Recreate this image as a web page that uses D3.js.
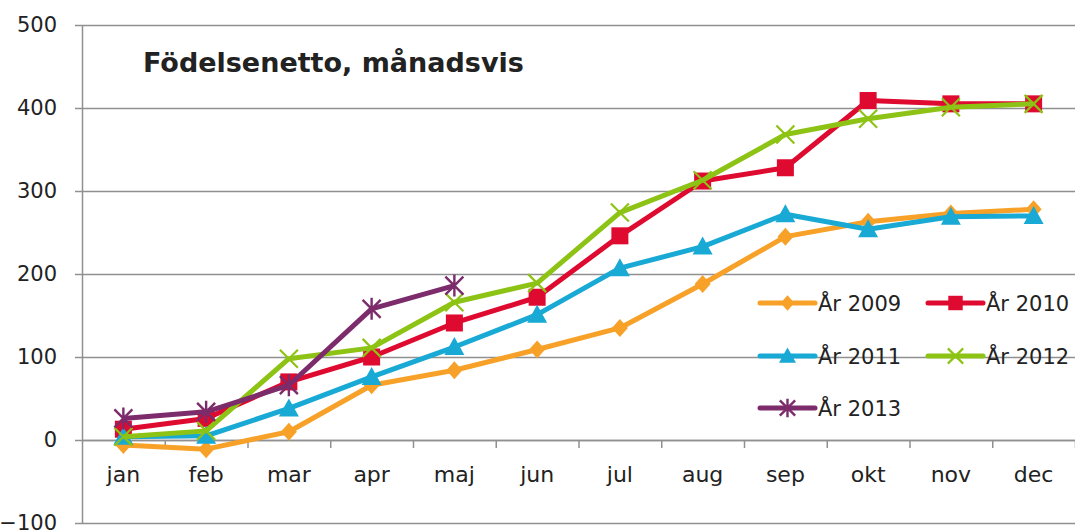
<!DOCTYPE html>
<html><head><meta charset="utf-8">
<script src="https://cdn.jsdelivr.net/npm/d3@7"></script>
<style>
html,body{margin:0;padding:0;background:#fff;}
svg{display:block;}
text{font-family:"DejaVu Sans",sans-serif;fill:#222;}
</style></head>
<body>
<svg id="chart" width="1075" height="530"></svg>
<script>
const months = ["jan","feb","mar","apr","maj","jun","jul","aug","sep","okt","nov","dec"];
const seriesNames = ["År 2009","År 2010","År 2011","År 2012","År 2013"];
const v2009 = [-6,-11,10,66,84,109,135,188,245,263,273,278];
const v2010 = [13,26,70,100,141,172,246,312,328,409,405,405];
const v2011 = [4,5,38,76,112,151,207,233,272,254,269,270];
const v2012 = [4,11,98,111,166,189,274,313,368,387,401,405];
const v2013 = [26,34,66,158,186];
const yTicks = [-100,0,100,200,300,400,500];
const title = "Födelsenetto, månadsvis";

const colors = ["#F7A128","#DE0A30","#19A9D5","#8DC314","#7C2B6B"];
const markers = ["diamond","square","triangle","x","star"];
const allValues = [v2009,v2010,v2011,v2012,v2013];

const svg = d3.select("#chart");
const L = 82, R = 1075, T = 25, B = 523;
const x = d3.scaleBand().domain(months).range([L,R]).padding(0);
const xi = d3.scaleLinear().domain([0,12]).range([L,R]);
const y = d3.scaleLinear().domain([-100,500]).range([B,T]);
const cx = m => x(m) + x.bandwidth()/2;

// gridlines
const grid = svg.append("g").attr("transform",`translate(${L},0)`)
  .call(d3.axisLeft(y).tickValues(yTicks).tickSize(-(R-L)).tickFormat(""));
grid.select(".domain").remove();
grid.selectAll("line").attr("stroke","#909090").attr("stroke-width",1.5);

// y axis
const ya = svg.append("g").attr("transform",`translate(${L},0)`)
  .call(d3.axisLeft(y).tickValues(yTicks).tickSize(7).tickPadding(18).tickSizeOuter(0));
ya.select(".domain").attr("stroke","#909090").attr("stroke-width",1.5);
ya.selectAll("line").attr("stroke","#909090").attr("stroke-width",1.5);
ya.selectAll("text").attr("font-size",21).attr("font-family","DejaVu Sans").attr("fill","#1a1a1a");

// x axis ticks at band boundaries
const xa = svg.append("g").attr("transform",`translate(0,${y(0)})`)
  .call(d3.axisBottom(xi).tickValues(d3.range(1,13)).tickSize(8).tickFormat("").tickSizeOuter(0));
xa.select(".domain").attr("stroke","#909090").attr("stroke-width",1.5);
xa.selectAll("line").attr("stroke","#909090").attr("stroke-width",1.5);
// x labels
const xl = svg.append("g").attr("transform",`translate(0,${y(0)})`)
  .call(d3.axisBottom(x).tickSize(0).tickPadding(26));
xl.select(".domain").remove();
xl.selectAll("text").attr("font-size",22).attr("font-family","DejaVu Sans").attr("fill","#1a1a1a");

// title
svg.append("text").attr("x",143).attr("y",72).text(title)
  .attr("font-family","Open Sans").attr("font-weight","bold").attr("font-size",27).attr("fill","#000");

function drawMarker(g, type, color, px, py, k) {
  k = k || 1;
  if (type === "diamond") {
    g.append("path").attr("d",`M${px},${py-9*k}L${px+8*k},${py}L${px},${py+9*k}L${px-8*k},${py}Z`).attr("fill",color);
  } else if (type === "square") {
    const s = 17*k;
    g.append("rect").attr("x",px-s/2).attr("y",py-s/2).attr("width",s).attr("height",s).attr("fill",color);
  } else if (type === "triangle") {
    g.append("path").attr("d",`M${px},${py-10*k}L${px+10*k},${py+8*k}L${px-10*k},${py+8*k}Z`).attr("fill",color);
  } else if (type === "x") {
    g.append("path").attr("d",`M${px-9*k},${py-9*k}L${px+9*k},${py+9*k}M${px+9*k},${py-9*k}L${px-9*k},${py+9*k}`)
      .attr("stroke",color).attr("stroke-width",2.2).attr("fill","none");
  } else if (type === "star") {
    g.append("path").attr("d",`M${px-9*k},${py-9*k}L${px+9*k},${py+9*k}M${px+9*k},${py-9*k}L${px-9*k},${py+9*k}M${px},${py-11*k}L${px},${py+11*k}`)
      .attr("stroke",color).attr("stroke-width",2.4).attr("fill","none");
  }
}

const line = d3.line().x((d,i)=>cx(months[i])).y(d=>y(d));
allValues.forEach((vals,si)=>{
  const g = svg.append("g");
  g.append("path").datum(vals).attr("d",line).attr("fill","none")
    .attr("stroke",colors[si]).attr("stroke-width",5).attr("stroke-linejoin","round");
  vals.forEach((v,i)=>drawMarker(g,markers[si],colors[si],cx(months[i]),y(v)));
});

// legend
const legPos = [[760,303],[928,303],[760,356],[928,356],[760,408]];
seriesNames.forEach((name,si)=>{
  const [lx,ly] = legPos[si];
  const g = svg.append("g");
  g.append("line").attr("x1",lx).attr("x2",lx+55).attr("y1",ly).attr("y2",ly)
    .attr("stroke",colors[si]).attr("stroke-width",5).attr("stroke-linecap","round");
  drawMarker(g,markers[si],colors[si],lx+27.5,ly,0.85);
  g.append("text").attr("x",lx+58).attr("y",ly).attr("dy","0.36em").text(name)
    .attr("font-size",21).attr("font-family","DejaVu Sans").attr("fill","#1a1a1a");
});
</script>
</body></html>
